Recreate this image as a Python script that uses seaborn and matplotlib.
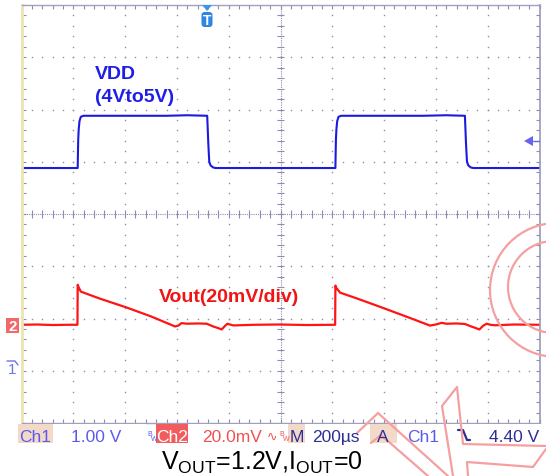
import numpy as np
import pandas as pd
import matplotlib
matplotlib.use("Agg")
import matplotlib.pyplot as plt
import seaborn as sns
from matplotlib.patches import Rectangle, Circle, FancyBboxPatch, Polygon

# Scope settings
time_per_div = 200          # us / div
ch1_volts_per_div = 1.0     # V / div
ch2_mv_per_div = 20.0       # mV / div
ch1_offset_div = -3.12      # ch1 trace offset (div)
ch2_offset_div = -2.12      # ch2 trace offset (div)

# Ch1: VDD step 4V -> 5V
vdd_time = [0, 100, 217, 218, 219, 221, 224, 229, 239, 400, 560, 640, 717, 719, 721, 723, 725,
            730, 740, 750, 900, 1050, 1212, 1213, 1214, 1216, 1219, 1224, 1234, 1400, 1550,
            1640, 1712, 1714, 1716, 1718, 1720, 1725, 1735, 1745, 1900, 2000]
vdd_volts = [4.0, 4.0, 4.0, 4.3, 4.55, 4.75, 4.9, 4.98, 5.0, 5.0, 5.0, 5.01, 5.0, 4.75, 4.5, 4.3, 4.12,
             4.05, 4.01, 4.0, 4.0, 4.0, 4.0, 4.3, 4.55, 4.75, 4.9, 4.98, 5.0, 5.0, 5.0,
             5.01, 5.0, 4.75, 4.5, 4.3, 4.12, 4.05, 4.01, 4.0, 4.0, 4.0]

# Ch2: Vout ripple (mV, relative to 1.2V)
vout_time = [0, 60, 120, 180, 216, 217, 220, 229, 300, 406, 500, 593, 606, 618, 638, 680, 715,
             740, 760, 773, 785, 795, 805, 818, 900, 1000, 1100, 1211,
             1212, 1215, 1230, 1300, 1400, 1500, 1577, 1600, 1622, 1640, 1680, 1712,
             1735, 1755, 1768, 1782, 1796, 1810, 1830, 1900, 2000]
vout_mv = [0.0, 0.1, -0.1, 0.0, 0.0, 15.3, 14.5, 12.7, 10.1, 6.6, 3.2, -0.65, -0.3, 0.65, 0.4, 0.5, 0.4,
           -0.65, -1.3, -1.8, -0.5, 0.4, 0.1, -0.25, 0.0, 0.1, -0.1, 0.0,
           15.0, 14.2, 12.3, 9.9, 6.3, 2.6, -0.3, 0.1, 0.75, 0.4, 0.5, 0.3,
           -0.6, -1.3, -1.8, -0.4, 0.4, 0.0, -0.2, 0.1, 0.0]

status_items = ["Ch1", "1.00 V", "Ch2", "20.0mV", "M", "200\u00b5s", "A", "Ch1", "4.40 V"]

df_vdd = pd.DataFrame({"t": vdd_time, "pos": [ch1_offset_div + v / ch1_volts_per_div for v in vdd_volts]})
df_vout = pd.DataFrame({"t": vout_time, "pos": [ch2_offset_div + v / ch2_mv_per_div for v in vout_mv]})

sns.set_theme(style="white")
plt.rcParams["font.family"] = ["Liberation Sans", "DejaVu Sans"]
plt.rcParams["mathtext.fontset"] = "custom"
plt.rcParams["mathtext.rm"] = "Liberation Sans"

W, H = 546, 477
fig = plt.figure(figsize=(W / 100, H / 100), dpi=100)
fig.patch.set_facecolor("white")
ax = fig.add_axes([21.5 / W, 53 / H, 518 / W, 418 / H])
ax.set_xlim(0, 10 * time_per_div)
ax.set_ylim(-4, 4)
ax.set_facecolor("white")

grid_col = "#8c8cb2"
# dotted graticule
xs_dots = np.arange(0, 10 * time_per_div + 1, time_per_div / 5)
ys_dots = np.arange(-4, 4.01, 0.2)
for gy in [-3, -2, -1, 1, 2, 3]:
    ax.plot(xs_dots, np.full(len(xs_dots), gy), ls="none", marker="s", ms=1.0, color=grid_col, mew=0)
for gx in [1, 2, 3, 4, 6, 7, 8, 9]:
    ax.plot(np.full(len(ys_dots), gx * time_per_div), ys_dots, ls="none", marker="s", ms=1.0, color=grid_col, mew=0)
# centre lines with ticks
ax.axhline(0, color=grid_col, lw=0.8, ls=(0, (1, 1)))
ax.axvline(5 * time_per_div, color=grid_col, lw=0.8, ls=(0, (1, 1)))
ax.vlines(xs_dots, -0.07, 0.07, color=grid_col, lw=0.8)
ax.hlines(ys_dots, 5 * time_per_div - 13, 5 * time_per_div + 13, color=grid_col, lw=0.8)

# border
ax.set_xticks(np.arange(0, 2001, 200))
ax.set_xticks(xs_dots, minor=True)
ax.set_yticks(np.arange(-4, 5, 1))
ax.set_yticks(ys_dots, minor=True)
ax.tick_params(which="both", direction="in", length=3, width=0.8, color=grid_col,
               top=True, right=True, bottom=True, left=True,
               labelbottom=False, labelleft=False)
for side in ["top", "bottom"]:
    ax.spines[side].set_color("#a0a0be")
    ax.spines[side].set_linestyle((0, (1, 1)))
    ax.spines[side].set_linewidth(1.0)
ax.spines["left"].set_color("#ebe6b0")
ax.spines["left"].set_linewidth(2.0)
ax.spines["right"].set_color("#9a9ab6")
ax.spines["right"].set_linewidth(1.2)

# traces
sns.lineplot(data=df_vdd, x="t", y="pos", ax=ax, color="#1a1ae0", linewidth=1.5,
             sort=False, estimator=None, legend=False)
sns.lineplot(data=df_vout, x="t", y="pos", ax=ax, color="#ff1414", linewidth=1.6,
             sort=False, estimator=None, legend=False)
ax.set_xlabel("")
ax.set_ylabel("")

# overlay in pixel coordinates
ov = fig.add_axes([0, 0, 1, 1], zorder=10)
ov.set_xlim(0, W)
ov.set_ylim(H, 0)
ov.axis("off")
ov.patch.set_alpha(0)

ov.text(95, 79, "VDD", color="#1e1ee6", fontsize=14, fontweight="bold")
ov.text(95, 102, "(4Vto5V)", color="#1e1ee6", fontsize=14, fontweight="bold")
ov.text(159, 302, "Vout(20mV/div)", color="#f01414", fontsize=14, fontweight="bold")

# trigger marker
ov.add_patch(Polygon([[202, 6], [212, 6], [207, 12]], closed=True, color="#3a96e8", lw=0))
ov.add_patch(FancyBboxPatch((201.5, 13), 11, 15, boxstyle="round,pad=0,rounding_size=3",
                            color="#2f86e0", lw=0))
ov.text(207, 21, "T", color="white", fontsize=10, fontweight="bold", ha="center", va="center")
# trigger level arrow
ov.add_patch(Polygon([[524, 142], [533, 137], [533, 147]], closed=True, color="#6464f0", lw=0))
ov.plot([533, 539], [142, 142], color="#6464f0", lw=1)
# channel markers
ov.add_patch(Rectangle((6, 319), 13, 15, color="#f06868", lw=0))
ov.text(12.5, 327, "2", color="white", fontsize=11, fontweight="bold", ha="center", va="center")
ov.plot([7, 15, 18], [362, 362, 366], color="#7070f0", lw=1)
ov.text(12, 370, "1", color="#7070f0", fontsize=11, ha="center", va="center")

# status bar
peach = "#f3dac8"
bar_y, bar_h = 425, 19
for x0, x1, col in [(18, 53, peach), (53, 146, "white"), (156, 188, "#f25c5c"),
                    (188, 288, "white"), (288, 305, peach), (305, 368, "white"),
                    (370, 397, peach), (397, 546, "white")]:
    ov.add_patch(Rectangle((x0, bar_y), x1 - x0, bar_h, color=col, lw=0))
blue_txt = "#5a5af0"
navy_txt = "#2e2e96"
red_txt = "#f05050"
base = 442
fs = 12.5
ov.text(35, base, status_items[0], color=blue_txt, fontsize=fs, ha="center")
ov.text(96, base, status_items[1], color=blue_txt, fontsize=fs, ha="center")
ov.text(147, 436, "B", color=blue_txt, fontsize=5)
ov.text(151, 441, "W", color=blue_txt, fontsize=5)
ov.text(172, base, status_items[2], color="white", fontsize=fs, ha="center")
ov.text(232, base, status_items[3], color=red_txt, fontsize=fs, ha="center")
ov.text(272, base - 1, "\u223f", color=red_txt, fontsize=9, ha="center")
ov.text(279, 436, "B", color=red_txt, fontsize=5)
ov.text(283, 441, "W", color=red_txt, fontsize=5)
ov.text(296.5, base, status_items[4], color=navy_txt, fontsize=fs, ha="center")
ov.text(336, base, status_items[5], color=navy_txt, fontsize=fs, ha="center")
ov.text(383, base, status_items[6], color=navy_txt, fontsize=fs, ha="center")
ov.text(423, base, status_items[7], color=blue_txt, fontsize=fs, ha="center")
ov.plot([458, 463, 467, 470], [431, 431, 441, 441], color=navy_txt, lw=1.6)
ov.text(514, base, status_items[8], color=navy_txt, fontsize=fs, ha="center")

# caption
ov.text(262, 470, r"V$_\mathregular{OUT}$=1.2V,I$_\mathregular{OUT}$=0", color="black", fontsize=18,
        ha="center", fontfamily="Liberation Sans")

# watermark logo
wm = "#f5a0a0"
ov.add_patch(Circle((557, 291), 67, fill=False, ec=wm, lw=1.6))
ov.add_patch(Circle((554, 288), 46, fill=False, ec=wm, lw=1.6))
ov.plot([357, 378, 448], [434, 414, 477], color=wm, lw=1.6)
ov.plot([371, 381, 428], [444, 436, 477], color=wm, lw=1.6)
ov.plot([453, 442, 457, 463, 546], [477, 407, 388, 445, 447], color=wm, lw=1.6)
ov.plot([468, 467, 533, 546], [477, 463, 468, 450], color=wm, lw=1.6)

fig.savefig("out.png", dpi=100)
